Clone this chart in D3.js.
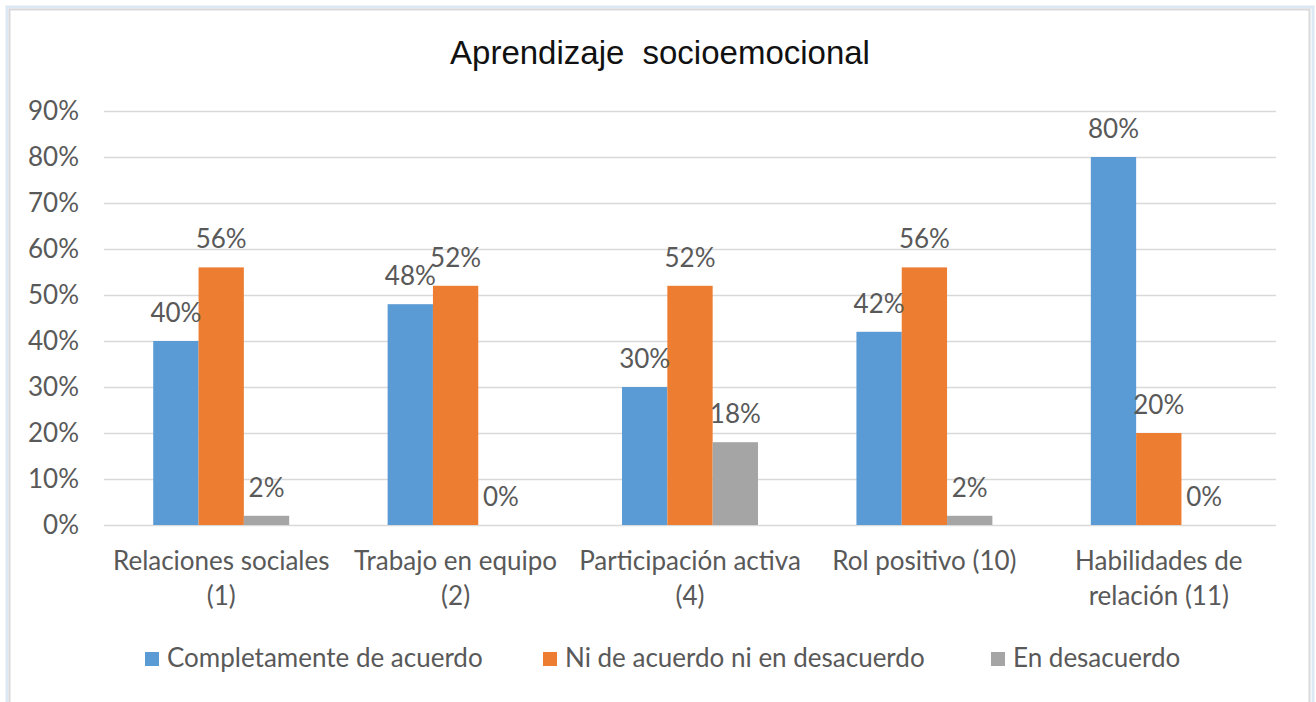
<!DOCTYPE html>
<html>
<head>
<meta charset="utf-8">
<script src="https://cdn.jsdelivr.net/npm/d3@7"></script>
<style>
  body { margin: 0; background: #fff; }
  svg text { font-family: Lato, "Noto Sans", sans-serif; fill: #595959; }
</style>
</head>
<body>
<div id="chart"></div>
<script>
// data
let categories = [
    ["Relaciones sociales", "(1)"],
    ["Trabajo en equipo", "(2)"],
    ["Participación activa", "(4)"],
    ["Rol positivo (10)"],
    ["Habilidades de", "relación (11)"]
];
let seriesNames = ["Completamente de acuerdo", "Ni de acuerdo ni en desacuerdo", "En desacuerdo"];
let completamente = [0.40, 0.48, 0.30, 0.42, 0.80];
let ni = [0.56, 0.52, 0.52, 0.56, 0.20];
let desacuerdo = [0.02, 0.00, 0.18, 0.02, 0.00];
let yTicks = [0, 0.1, 0.2, 0.3, 0.4, 0.5, 0.6, 0.7, 0.8, 0.9];

let colors = ["#5b9bd5", "#ed7d31", "#a5a5a5"];
let seriesValues = [completamente, ni, desacuerdo];

let W = 1316, H = 702;
let plot = {left: 104, right: 1276, top: 111, bottom: 525};
let fontSize = '26px';

let svg = d3.select('#chart')
    .append('svg')
    .attr("width", W)
    .attr("height", H);

// chart frame
svg.append('rect')
    .attr('x', 7).attr('y', 7)
    .attr('width', 1306).attr('height', 720)
    .attr('fill', 'none')
    .attr('stroke', '#dde8f5')
    .attr('stroke-width', 3);
svg.append('rect')
    .attr('x', 9.5).attr('y', 9.5)
    .attr('width', 1300).attr('height', 720)
    .attr('fill', '#fff')
    .attr('stroke', '#d9d9d9')
    .attr('stroke-width', 2);

svg.append('text')
    .attr('x', 660)
    .attr('y', 64)
    .attr('text-anchor', 'middle')
    .style('font-family', '"Liberation Sans", Arial, sans-serif')
    .style('font-size', '33px')
    .style('word-spacing', '9px')
    .style('fill', '#111')
    .text("Aprendizaje socioemocional");

let yScale = d3.scaleLinear()
    .domain([0, 0.9])
    .range([plot.bottom, plot.top]);

let x0 = d3.scaleBand()
    .domain(d3.range(categories.length))
    .range([plot.left, plot.right])
    .paddingInner(0.42)
    .paddingOuter(0.21);

let x1 = d3.scaleBand()
    .domain(d3.range(seriesNames.length))
    .range([0, x0.bandwidth()]);

// gridlines
let yAxisCall = d3.axisLeft(yScale)
    .tickValues(yTicks)
    .tickSize(-(plot.right - plot.left))
    .tickPadding(25)
    .tickFormat(d3.format(".0%"));

let yAxis = svg.append('g')
    .attr("transform", "translate(" + plot.left + ",0)")
    .call(yAxisCall);
yAxis.select('.domain').remove();
yAxis.selectAll('line').attr('stroke', '#d9d9d9').attr('stroke-width', 1.5);
yAxis.selectAll('text')
    .style('font-size', fontSize)
    .style('font-family', 'Lato, sans-serif')
    .attr('fill', '#595959');

// bars
let groups = svg.selectAll('.grp')
    .data(categories.map(function (c, i) { return i; }))
    .enter()
    .append('g')
    .attr('class', 'grp')
    .attr('transform', function (i) { return "translate(" + x0(i) + ",0)"; });

groups.selectAll('rect')
    .data(function (i) {
        return seriesValues.map(function (vals, s) { return {s: s, v: vals[i]}; });
    })
    .enter()
    .append('rect')
    .attr('x', function (d) { return x1(d.s); })
    .attr('width', x1.bandwidth())
    .attr('y', function (d) { return yScale(d.v); })
    .attr('height', function (d) { return plot.bottom - yScale(d.v); })
    .attr('fill', function (d) { return colors[d.s]; });

groups.selectAll('.lbl')
    .data(function (i) {
        return seriesValues.map(function (vals, s) { return {s: s, v: vals[i]}; });
    })
    .enter()
    .append('text')
    .attr('class', 'lbl')
    .attr('x', function (d) { return x1(d.s) + x1.bandwidth() / 2; })
    .attr('y', function (d) { return yScale(d.v) - 19; })
    .attr('text-anchor', 'middle')
    .style('font-size', fontSize)
    .text(function (d) { return d3.format(".0%")(d.v); });

// category labels
categories.forEach(function (lines, i) {
    let cx = x0(i) + x0.bandwidth() / 2;
    let t = svg.append('text')
        .attr('text-anchor', 'middle')
        .style('font-size', fontSize);
    lines.forEach(function (line, k) {
        t.append('tspan')
            .attr('x', cx)
            .attr('y', 570 + k * 35)
            .text(line);
    });
});

// legend
let legendX = [145, 543, 991];
seriesNames.forEach(function (name, s) {
    svg.append('rect')
        .attr('x', legendX[s]).attr('y', 652)
        .attr('width', 14).attr('height', 14)
        .attr('fill', colors[s]);
    svg.append('text')
        .attr('x', legendX[s] + 22)
        .attr('y', 667)
        .style('font-size', fontSize)
        .text(name);
});
</script>
</body>
</html>
